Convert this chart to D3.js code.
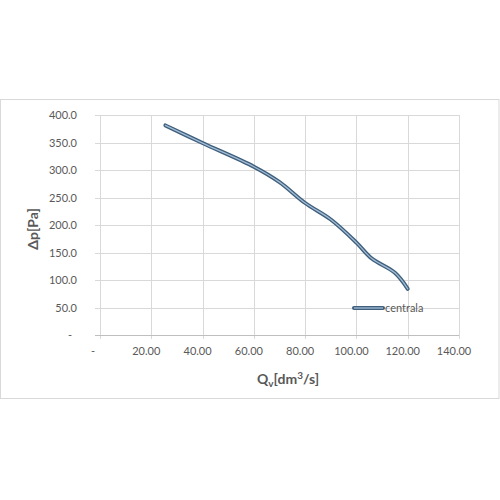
<!DOCTYPE html>
<html>
<head>
<meta charset="utf-8">
<script src="https://cdn.jsdelivr.net/npm/d3@7"></script>
<style>
  body { margin: 0; background: #fff; }
  svg { font-family: Lato, "Open Sans", sans-serif; }
</style>
</head>
<body>
<div id="chart"></div>
<script>
// data
const qv = [25.5, 40, 60, 70, 80, 90, 100, 106, 115, 120];
const dp = [381, 349, 306, 278, 240, 210, 168, 139, 113, 84];
const seriesName = "centrala";
const xTicks = [0, 20, 40, 60, 80, 100, 120, 140];
const yTicks = [0, 50, 100, 150, 200, 250, 300, 350, 400];

const width = 500, height = 500;
const svg = d3.select("#chart").append("svg")
  .attr("width", width).attr("height", height);

// chart border
svg.append("rect")
  .attr("x", 0.5).attr("y", 99.5)
  .attr("width", 498.5).attr("height", 299)
  .attr("fill", "#fff").attr("stroke", "#d9d9d9");

const x = d3.scaleLinear().domain([0, 140]).range([100, 459]);
const y = d3.scaleLinear().domain([0, 400]).range([335, 115]);

// gridlines
svg.append("g").selectAll("line").data(yTicks.filter(d => d > 0)).enter().append("line")
  .attr("x1", x(0) - 5).attr("x2", x(140))
  .attr("y1", d => Math.round(y(d)) + 0.5).attr("y2", d => Math.round(y(d)) + 0.5)
  .attr("stroke", "#d9d9d9");
svg.append("g").selectAll("line").data(xTicks).enter().append("line")
  .attr("x1", d => Math.round(x(d)) + 0.5).attr("x2", d => Math.round(x(d)) + 0.5)
  .attr("y1", y(400)).attr("y2", y(0) + 4)
  .attr("stroke", "#d9d9d9");

// x axis line
svg.append("line")
  .attr("x1", x(0) - 5).attr("x2", x(140))
  .attr("y1", Math.round(y(0)) + 0.5).attr("y2", Math.round(y(0)) + 0.5)
  .attr("stroke", "#bfbfbf");

const fmtX = d => d === 0 ? "-" : d.toFixed(2);
const fmtY = d => d === 0 ? "-" : d.toFixed(1);

// tick labels
svg.append("g").selectAll("text").data(xTicks).enter().append("text")
  .attr("x", d => d === 0 ? x(d) - 7 : x(d) - 5)
  .attr("y", 355)
  .attr("text-anchor", "middle")
  .style("font-size", "11px").style("fill", "#595959")
  .text(fmtX);
svg.append("g").selectAll("text").data(yTicks).enter().append("text")
  .attr("x", d => d === 0 ? 72 : 77)
  .attr("y", d => y(d) + 4)
  .attr("text-anchor", "end")
  .style("font-size", "11px").style("fill", "#595959")
  .text(fmtY);

// axis titles
svg.append("text")
  .attr("transform", "translate(38,229) rotate(-90)")
  .attr("text-anchor", "middle")
  .style("font-size", "14px").style("font-weight", "bold").style("fill", "#595959")
  .text("Δp[Pa]");

const xt = svg.append("text")
  .attr("x", 288).attr("y", 384)
  .attr("text-anchor", "middle")
  .style("font-size", "14px").style("font-weight", "bold").style("fill", "#595959");
xt.append("tspan").text("Q");
xt.append("tspan").attr("dy", 3).style("font-size", "10px").text("v");
xt.append("tspan").attr("dy", -3).text("[dm");
xt.append("tspan").attr("dy", -5).style("font-size", "10px").text("3");
xt.append("tspan").attr("dy", 5).text("/s]");

// series
const pts = qv.map((d, i) => [d, dp[i]]);
const line = d3.line()
  .x(d => x(d[0])).y(d => y(d[1]))
  .curve(d3.curveCatmullRom.alpha(0.5));

svg.append("path").datum(pts)
  .attr("d", line)
  .attr("fill", "none").attr("stroke", "#3f5f7c")
  .attr("stroke-width", 4).attr("stroke-linecap", "round");
svg.append("path").datum(pts)
  .attr("d", line)
  .attr("fill", "none").attr("stroke", "#a3bdd6")
  .attr("stroke-width", 1.3).attr("stroke-linecap", "round");

// legend
const lg = svg.append("g").attr("transform", "translate(354,308)");
lg.append("line").attr("x1", 0).attr("x2", 29)
  .attr("stroke", "#3f5f7c").attr("stroke-width", 4).attr("stroke-linecap", "round");
lg.append("line").attr("x1", 0).attr("x2", 29)
  .attr("stroke", "#a3bdd6").attr("stroke-width", 1.3);
lg.append("text").attr("x", 31).attr("y", 4)
  .style("font-size", "11px").style("fill", "#595959")
  .text(seriesName);
</script>
</body>
</html>
